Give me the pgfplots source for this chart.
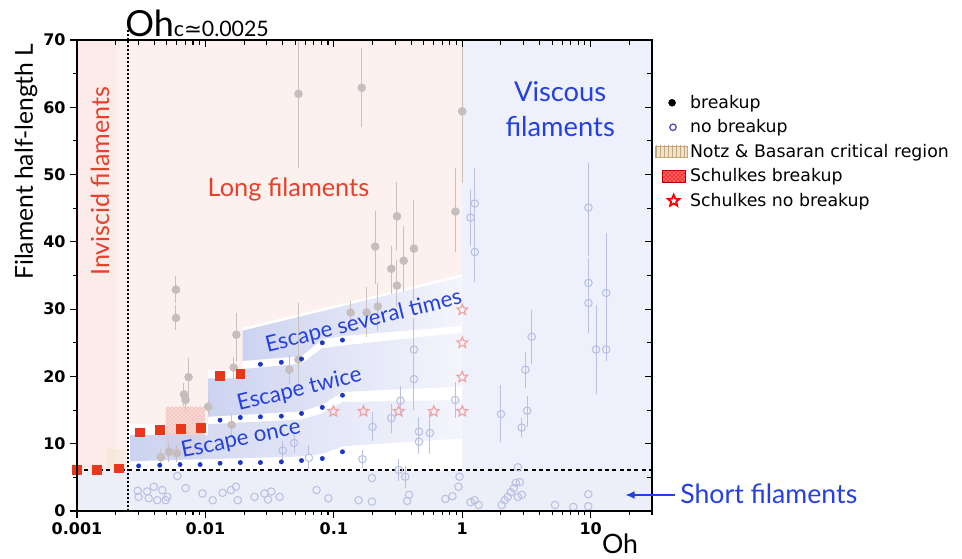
\documentclass[border=0pt]{standalone}
\usepackage{fontspec}
\setmainfont{Lato}
\newfontfamily\dv{DejaVu Sans}
\usepackage{pgfplots}
\pgfplotsset{compat=1.18}
\usepackage{pgfplotstable}
\usetikzlibrary{patterns,arrows.meta}

\pgfdeclareplotmark{ostar}{%
  \pgfpathmoveto{\pgfpointpolar{90}{\pgfplotmarksize}}%
  \pgfpathlineto{\pgfpointpolar{126}{0.45\pgfplotmarksize}}%
  \pgfpathlineto{\pgfpointpolar{162}{\pgfplotmarksize}}%
  \pgfpathlineto{\pgfpointpolar{198}{0.45\pgfplotmarksize}}%
  \pgfpathlineto{\pgfpointpolar{234}{\pgfplotmarksize}}%
  \pgfpathlineto{\pgfpointpolar{270}{0.45\pgfplotmarksize}}%
  \pgfpathlineto{\pgfpointpolar{306}{\pgfplotmarksize}}%
  \pgfpathlineto{\pgfpointpolar{342}{0.45\pgfplotmarksize}}%
  \pgfpathlineto{\pgfpointpolar{18}{\pgfplotmarksize}}%
  \pgfpathlineto{\pgfpointpolar{54}{0.45\pgfplotmarksize}}%
  \pgfpathclose
  \pgfusepathqstroke}

\definecolor{pinkbg}{HTML}{FDF1EF}
\definecolor{invbg}{HTML}{FCECE9}
\definecolor{bluebg}{HTML}{EEF0FB}
\definecolor{shortbg}{HTML}{EDEFF8}
\definecolor{bandL}{HTML}{C4CCEE}
\definecolor{bandR}{HTML}{F3F4FC}
\definecolor{grayp}{HTML}{C6BEBE}
\definecolor{grayb}{HTML}{C9C1C1}
\definecolor{blueb}{HTML}{BAC0E4}
\definecolor{redsq}{HTML}{E8381C}
\definecolor{dotb}{HTML}{1C36C8}
\definecolor{starc}{HTML}{F2A4A4}
\definecolor{txtred}{HTML}{E8402A}
\definecolor{txtblue}{HTML}{2540E0}
\definecolor{schfill}{HTML}{F8D6D2}
\definecolor{schpat}{HTML}{EE9C94}
\definecolor{notzfill}{HTML}{F0E2CC}
\definecolor{notzline}{HTML}{C4A67C}
\definecolor{legblue}{HTML}{5050B0}

\pgfplotstableread{
x y ep em
0.053 62.0 10 10.4
0.165 62.9 5.3 5.2
1.0 59.4 12 10
0.885 44.5 5.8 5.4
0.21 39.3 4.7 4.9
0.31 43.8 4.4 4.4
0.42 39.0 6.5 7.2
0.35 37.2 4.5 4.0
0.28 36.0 2.8 3.1
0.31 33.5 3.1 2.5
0.135 29.5 1.1 1.5
0.18 29.5 3.1 3.0
0.22 30.4 2.8 3.0
0.0059 32.9 1.4 1.3
0.0059 28.7 1.2 1.1
0.0174 26.2 2.5 3.3
0.0074 19.9 2.2 2.5
0.0068 17.3 1.0 1.0
0.0070 16.5 0.8 0.8
0.0166 21.3 1.0 1.0
0.0105 15.5 0.5 0.5
0.016 12.8 1.0 1.0
0.045 21.0 1.5 1.5
0.053 22.5 7.7 4.0
0.0052 8.8 0.8 0.8
0.0060 8.6 0.6 0.6
0.0045 8.0 0.5 0.5
}\graydata

\pgfplotstableread{
x y ep em
1.16 43.6 3.5 3.5
1.25 45.7 4.6 4.6
1.25 38.5 4.0 3.8
9.6 45.1 6.0 6.6
9.6 33.9 3.0 3.0
9.6 30.9 3.5 3.8
13.2 32.4 8.2 8.4
11.0 24.0 5.9 6.0
13.2 24.0 1.0 1.0
3.47 25.9 3.3 3.4
3.1 21.0 2.0 2.0
3.2 14.9 1.5 1.7
2.9 12.4 0.8 0.8
2.0 14.4 3.6 3.5
0.20 12.5 1.5 1.5
0.28 13.8 1.5 1.5
0.42 24.0 4.0 4.0
0.42 19.6 4.0 4.0
0.33 16.4 1.5 1.5
0.46 11.8 1.5 1.5
0.46 10.3 1.2 1.2
0.56 11.6 2.5 2.5
0.88 16.5 2.0 2.0
0.167 7.7 0.7 0.7
0.32 6.1 1.0 1.0
0.36 5.1 1.0 1.0
0.04 9.0 0.8 0.8
0.049 10.1 0.8 0.8
}\bluedata

\pgfplotstableread{
x y
0.00297 3.0
0.00352 2.9
0.00396 3.6
0.00461 3.1
0.00505 2.1
0.00302 2.1
0.00362 1.9
0.00422 1.6
0.00490 1.6
0.00604 5.2
0.00701 3.4
0.00948 2.6
0.01138 1.6
0.01361 2.7
0.01581 3.1
0.01786 1.6
0.01730 3.6
0.02410 2.1
0.02884 2.6
0.03258 2.9
0.03784 2.1
0.03069 1.7
0.0733 3.1
0.0906 1.9
0.1556 1.6
0.1977 1.4
0.1977 4.9
0.385 2.4
0.372 1.5
0.738 1.8
0.838 2.2
0.933 3.6
0.951 5.1
1.159 1.3
1.247 1.6
1.340 0.9
2.028 0.9
2.143 1.6
2.259 2.1
2.388 2.8
2.518 3.4
2.612 4.2
2.805 4.3
2.710 2.1
2.911 2.4
2.710 6.5
5.27 0.9
7.31 0.6
9.57 2.5
9.57 0.7
}\shortdata

\begin{document}
\begin{tikzpicture}
\path (0,0) rectangle (721.5pt,419.25pt);
\begin{axis}[
  scale only axis, width=431.25pt, height=353.25pt,
  at={(57.75pt,36pt)}, anchor=south west,
  xmode=log, xmin=0.001, xmax=30, ymin=0, ymax=70,
  clip mode=individual,
  xtick={0.001,0.01,0.1,1,10}, xticklabels={0.001,0.01,0.1,1,10},
  minor xtick={0.002,0.003,0.004,0.005,0.006,0.007,0.008,0.009,0.02,0.03,0.04,0.05,0.06,0.07,0.08,0.09,0.2,0.3,0.4,0.5,0.6,0.7,0.8,0.9,2,3,4,5,6,7,8,9,20,30},
  ytick={0,10,20,30,40,50,60,70}, yticklabels={0,10,20,30,40,50,60,70},
  minor ytick={5,15,25,35,45,55,65},
  xtick pos=left, ytick pos=left, tick align=outside,
  major tick length=5pt, minor tick length=3pt,
  every tick/.style={black, line width=0.8pt},
  axis line style={line width=0.9pt},
  ticklabel style={font=\dv\bfseries\fontsize{12}{14}\selectfont},
  legend style={at={(1.005,0.889)}, anchor=north west, draw=none, fill=none,
    font=\dv\fontsize{13}{15}\selectfont, row sep=3pt, inner sep=0pt,
    /tikz/every even column/.append style={column sep=4pt}},
  legend cell align=left,
]
% backgrounds
\addplot[draw=none, fill=pinkbg, forget plot] coordinates {(0.001,0) (1,0) (1,70) (0.001,70)} --cycle;
\addplot[draw=none, fill=invbg, forget plot] coordinates {(0.001,0) (0.002,0) (0.002,70) (0.001,70)} --cycle;
\addplot[draw=none, fill=bluebg, forget plot] coordinates {(1,0) (30,0) (30,70) (1,70)} --cycle;
\addplot[draw=none, fill=shortbg, forget plot] coordinates {(0.001,0) (30,0) (30,6.1) (0.001,6.1)} --cycle;
\addplot[draw=none, fill=white, forget plot] coordinates {(0.0025,6.15) (1,6.15) (1,35.2) (0.0195,27.2) (0.0195,21.2) (0.0105,21.0) (0.0105,12.9) (0.0025,12.9)} --cycle;
% Notz & Basaran (faint)
\addplot[draw=none, fill=notzfill, fill opacity=0.35, forget plot] coordinates {(0.0017,6.3) (0.0024,6.3) (0.0024,9.2) (0.0017,9.2)} --cycle;
% Schulkes breakup region
\addplot[draw=none, fill=schfill, postaction={pattern=crosshatch dots, pattern color=schpat}, forget plot] coordinates {(0.0049,8.1) (0.0099,8.1) (0.0099,15.5) (0.0049,15.5)} --cycle;
% escape bands
\addplot[draw=none, left color=bandL, right color=bandR, opacity=0.85, forget plot] coordinates {(0.0026,7.4) (0.056,8.1) (0.0813,8.5) (0.1167,9.6) (1,10.8) (1,16.5) (0.1167,16.2) (0.0813,14.5) (0.056,13.6) (0.0105,12.9) (0.0105,11.3) (0.0026,11.3)} --cycle;
\addplot[draw=none, left color=bandL, right color=bandR, opacity=0.85, forget plot] coordinates {(0.0105,14.0) (0.056,14.8) (0.0813,15.8) (0.1167,17.7) (1,18.5) (1,26.5) (0.1167,24.6) (0.0813,24.2) (0.056,21.9) (0.0195,21.1) (0.0195,19.7) (0.0105,19.7)} --cycle;
\addplot[draw=none, left color=bandL, right color=bandR, opacity=0.85, forget plot] coordinates {(0.0195,22.3) (0.056,23.0) (0.0813,25.5) (0.1167,26.0) (1,27.5) (1,34.8) (0.0195,26.8)} --cycle;
% reference lines
\addplot[black, line width=1pt, dash pattern=on 3pt off 2.5pt, forget plot] coordinates {(0.001,6.1) (30,6.1)};
\addplot[black, line width=1pt, dash pattern=on 1.2pt off 1.8pt, forget plot] coordinates {(0.0025,0) (0.0025,70)};
% data
\addplot[forget plot, only marks, mark=o, mark size=2.8pt, color=blueb, mark options={line width=0.8pt}] table[x=x,y=y] {\shortdata};
\addplot[forget plot, only marks, mark=o, mark size=2.8pt, color=blueb, mark options={line width=0.8pt},
  error bars/.cd, y dir=both, y explicit, error mark=-,
  error bar style={color=blueb, line width=0.75pt},
  error mark options={color=blueb, mark size=3.3pt, line width=0.75pt}]
  table[x=x,y=y,y error plus=ep,y error minus=em] {\bluedata};
\addplot[forget plot, only marks, mark=*, mark size=2.8pt, color=blueb, mark options={fill=white, line width=0.8pt},
  error bars/.cd, y dir=both, y explicit, error mark=-,
  error bar style={color=blueb, line width=0.75pt},
  error mark options={color=blueb, mark size=3.3pt, line width=0.75pt}]
  coordinates {(0.064,7.9) +- (0,1.2)};
\addplot[forget plot, only marks, mark=*, mark size=3pt, color=grayp, mark options={fill=grayp, draw=grayp},
  error bars/.cd, y dir=both, y explicit, error mark=-,
  error bar style={color=grayb, line width=0.75pt},
  error mark options={color=grayb, mark size=3.3pt, line width=0.75pt}]
  table[x=x,y=y,y error plus=ep,y error minus=em] {\graydata};
\addplot[forget plot, only marks, mark=ostar, mark size=4.2pt, color=starc, mark options={line width=0.9pt}]
  coordinates {(1,29.9) (1,25.0) (1,19.9) (1,14.8) (0.099,14.8) (0.17,14.8) (0.32,14.8) (0.60,14.8)};
\addplot[forget plot, only marks, mark=*, mark size=1.6pt, color=dotb]
  coordinates {(0.00302,6.7) (0.00441,6.8) (0.00634,6.9) (0.00909,6.9) (0.0130,7.1) (0.0187,7.2) (0.0268,7.2) (0.039,7.3) (0.056,7.5) (0.0813,7.8) (0.1167,8.8)
  (0.0130,13.5) (0.0187,13.9) (0.0268,14.0) (0.039,14.1) (0.056,14.5) (0.0813,15.4) (0.1167,17.2)
  (0.0268,21.8) (0.039,22.1) (0.056,22.6) (0.0813,25.0) (0.1167,25.4)};
\addplot[forget plot, only marks, mark=square*, mark size=3.3pt, color=redsq]
  coordinates {(0.001,6.1) (0.00143,6.1) (0.00211,6.35) (0.00306,11.7) (0.00441,12.05) (0.00641,12.2) (0.0092,12.4) (0.013,20.1) (0.0187,20.4)};
% annotations
\node[rotate=90, color=txtred, font=\fontsize{18.8}{22}\selectfont] at (0.00151,49.0) {Inviscid filaments};
\node[color=txtred, font=\fontsize{19}{22}\selectfont] at (0.0443,47.8) {Long filaments};
\node[color=txtblue, font=\fontsize{20.5}{26}\selectfont, align=center] at (5.78,59.7) {Viscous\\filaments};
\node[rotate=14, color=txtblue, font=\fontsize{16.7}{20}\selectfont] at (0.171,28.1) {Escape several times};
\node[rotate=13.5, color=txtblue, font=\fontsize{16.7}{20}\selectfont] at (0.054,18.0) {Escape twice};
\node[rotate=11.5, color=txtblue, font=\fontsize{16.7}{20}\selectfont] at (0.0189,10.6) {Escape once};
% legend
\addlegendimage{legend image code/.code={\path[draw=none,fill=none] (0pt,-5pt) rectangle (23.75pt,5pt); \fill[black] (12.5pt,0pt) circle (2.6pt);}}
\addlegendentry{breakup}
\addlegendimage{legend image code/.code={\path[draw=none,fill=none] (0pt,-5pt) rectangle (23.75pt,5pt); \draw[legblue, line width=1pt] (13.2pt,0pt) circle (2.4pt);}}
\addlegendentry{no breakup}
\addlegendimage{legend image code/.code={\path[draw=none,fill=none] (0pt,-5pt) rectangle (23.75pt,5pt); \draw[notzline, fill=notzfill, postaction={pattern=vertical lines, pattern color=notzline}] (0pt,-4.4pt) rectangle (23.75pt,4.4pt);}}
\addlegendentry{Notz \& Basaran critical region}
\addlegendimage{legend image code/.code={\path[draw=none,fill=none] (0pt,-5pt) rectangle (23.75pt,5pt); \draw[red!70!black, fill=red!80, postaction={pattern=crosshatch dots, pattern color=white}] (5pt,-4.4pt) rectangle (22.5pt,4.4pt);}}
\addlegendentry{Schulkes breakup}
\addlegendimage{legend image code/.code={\path[draw=none,fill=none] (0pt,-5pt) rectangle (23.75pt,5pt); \draw[red, line width=1.4pt, fill=none] plot[mark=ostar, mark size=4.5pt] coordinates {(13.7pt,0pt)};}}
\addlegendentry{Schulkes no breakup}
\end{axis}
\begin{axis}[
  scale only axis, width=431.25pt, height=353.25pt,
  at={(57.75pt,36pt)}, anchor=south west,
  xmode=log, xmin=0.001, xmax=30, ymin=0, ymax=70,
  xtick={0.001,0.01,0.1,1,10}, xticklabels={},
  minor xtick={0.002,0.003,0.004,0.005,0.006,0.007,0.008,0.009,0.02,0.03,0.04,0.05,0.06,0.07,0.08,0.09,0.2,0.3,0.4,0.5,0.6,0.7,0.8,0.9,2,3,4,5,6,7,8,9,20,30},
  ytick={0,10,20,30,40,50,60,70}, yticklabels={},
  minor ytick={5,15,25,35,45,55,65},
  xtick pos=right, ytick pos=right, tick align=inside,
  major tick length=5pt, minor tick length=4pt,
  every tick/.style={black, line width=0.8pt},
  axis line style={line width=0.9pt},
]
\addplot[draw=none] coordinates {(0.01,10)};
\end{axis}
% outside annotations
\draw[line width=1.6pt] (52.5pt,389.25pt) -- (86.25pt,389.25pt);
\draw[line width=1pt, dash pattern=on 1.2pt off 1.8pt] (96.1pt,389.25pt) -- (96.1pt,397pt);
\node[anchor=base west, inner sep=0pt, font=\fontsize{27}{30}\selectfont] at (93.75pt,391.7pt) {Oh{\fontsize{16}{18}\selectfont c{\dv ≃}0.0025}};
\node[rotate=90, font=\fontsize{18.5}{22}\selectfont] at (19.5pt,298pt) {Filament half-length L};
\node[font=\fontsize{20}{24}\selectfont] at (465pt,11.5pt) {Oh};
\draw[-{Latex[length=7pt,width=6pt]}, color=txtblue, line width=1.2pt] (506pt,48pt) -- (469pt,48pt);
\node[anchor=west, inner sep=0pt, color=txtblue, font=\fontsize{20}{24}\selectfont] at (510pt,48.75pt) {Short filaments};
\pgfresetboundingbox
\path[use as bounding box] (0,0) rectangle (721.5pt,419.25pt);
\end{tikzpicture}
\end{document}
